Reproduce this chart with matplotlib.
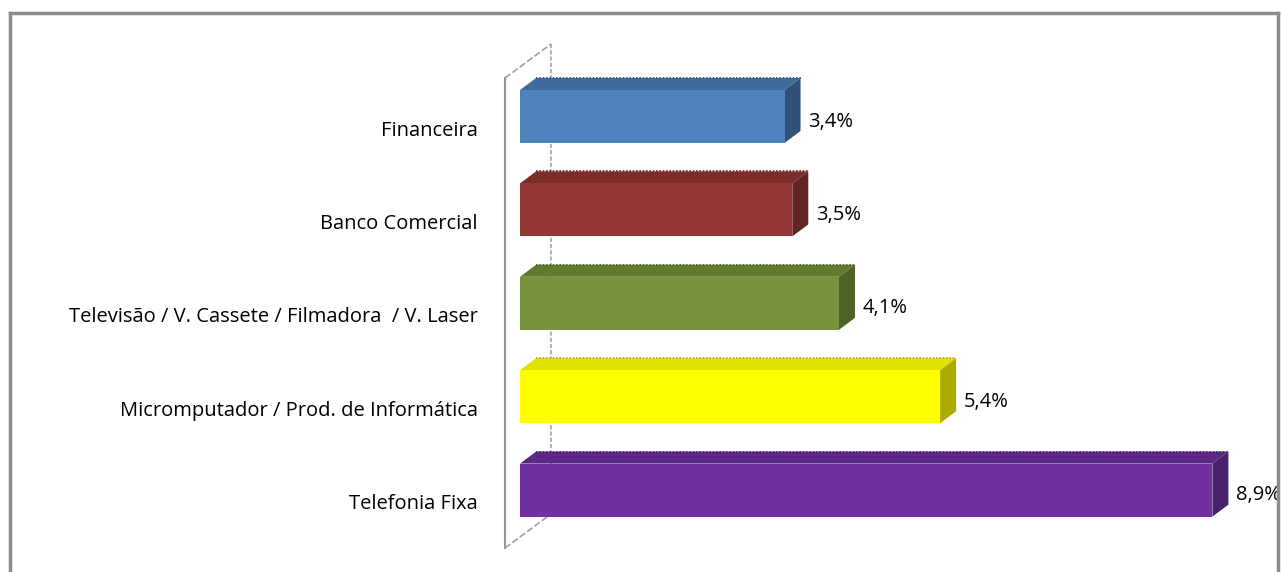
import matplotlib.pyplot as plt
from matplotlib.patches import Polygon
import matplotlib.lines as mlines

plt.rcParams['font.family'] = ['Open Sans', 'DejaVu Sans']

# --- dados ---
categorias = ['Financeira', 'Banco Comercial',
              'Televisão / V. Cassete / Filmadora  / V. Laser',
              'Micromputador / Prod. de Informática', 'Telefonia Fixa']
valores = [3.4, 3.5, 4.1, 5.4, 8.9]
rotulos = ['3,4%', '3,5%', '4,1%', '5,4%', '8,9%']
cor_frente = ['#4F81BD', '#953735', '#77933C', '#FFFF00', '#7030A0']
cor_topo = ['#3F6A9C', '#7E2C2A', '#617A2F', '#E2E200', '#5C2786']
cor_lado = ['#30507A', '#632523', '#4C6226', '#ABAB00', '#48206B']

# escala: pixels por unidade e por linha
W, H = 1281, 572
px_x = 77.8       # px por 1 ponto percentual
x0 = 520          # pixel do zero
px_y = 93.4       # px entre barras
y0 = 116.5        # centro da primeira barra

fig = plt.figure(figsize=(W / 100, H / 100), dpi=100)
ax = fig.add_axes([0, 0, 1, 1])
ax.set_xlim(-x0 / px_x, (W - x0) / px_x)
ax.set_ylim((H - y0) / px_y, -y0 / px_y)
ax.axis('off')

# moldura
for xs, ys in [([10, 1278], [13, 13]), ([10, 10], [13, 572]), ([1278, 1278], [13, 572])]:
    fig.add_artist(mlines.Line2D([x / W for x in xs], [1 - y / H for y in ys],
                                 color='#8C8C8C', lw=2.5))

# profundidade 3D
dx = 16 / px_x
dy = 12 / px_y
h = 53 / px_y

# paredes (eixo)
wx_f = -15 / px_x
wdx = 46 / px_x
wdy = 34 / px_y
wtop = -0.412
wbot = 4.62
ax.plot([wx_f, wx_f], [wtop, wbot], color='#969696', lw=1.5, zorder=1)
ax.plot([wx_f + wdx, wx_f + wdx], [wtop - wdy, wbot - wdy], color='#B4B4B4',
        lw=1.5, ls=(0, (2, 1)), zorder=1)
ax.plot([wx_f, wx_f + wdx], [wtop, wtop - wdy], color='#A0A0A0', lw=1.2,
        ls=(0, (4, 1.5)), zorder=1)
ax.plot([wx_f, wx_f + wdx], [wbot, wbot - wdy], color='#A0A0A0', lw=1.2,
        ls=(0, (4, 1.5)), zorder=1)

for i, v in enumerate(valores):
    top = i - h / 2
    bot = i + h / 2
    frente = [(0, top), (v, top), (v, bot), (0, bot)]
    topo = [(0, top), (dx, top - dy), (v + dx, top - dy), (v, top)]
    lado = [(v, top), (v + dx, top - dy), (v + dx, bot - dy), (v, bot)]
    ax.add_patch(Polygon(topo, closed=True, fc=cor_topo[i], ec='none', zorder=2))
    ax.add_patch(Polygon(lado, closed=True, fc=cor_lado[i], ec='none', zorder=2))
    ax.add_patch(Polygon(frente, closed=True, fc=cor_frente[i], ec='none', zorder=3))
    ax.plot([dx, v + dx], [top - dy, top - dy], color=cor_lado[i], lw=1.2,
            ls=(0, (1, 1)), zorder=2)
    ax.annotate(rotulos[i], (v + dx, i), xytext=(8, -5), textcoords='offset pixels',
                ha='left', va='center', fontsize=14.5, color='black')
    ax.annotate(categorias[i], (wx_f, i), xytext=(-27, -14), textcoords='offset pixels',
                ha='right', va='center', fontsize=14.5, color='black')

fig.savefig('out.png', dpi=100, facecolor='white')
